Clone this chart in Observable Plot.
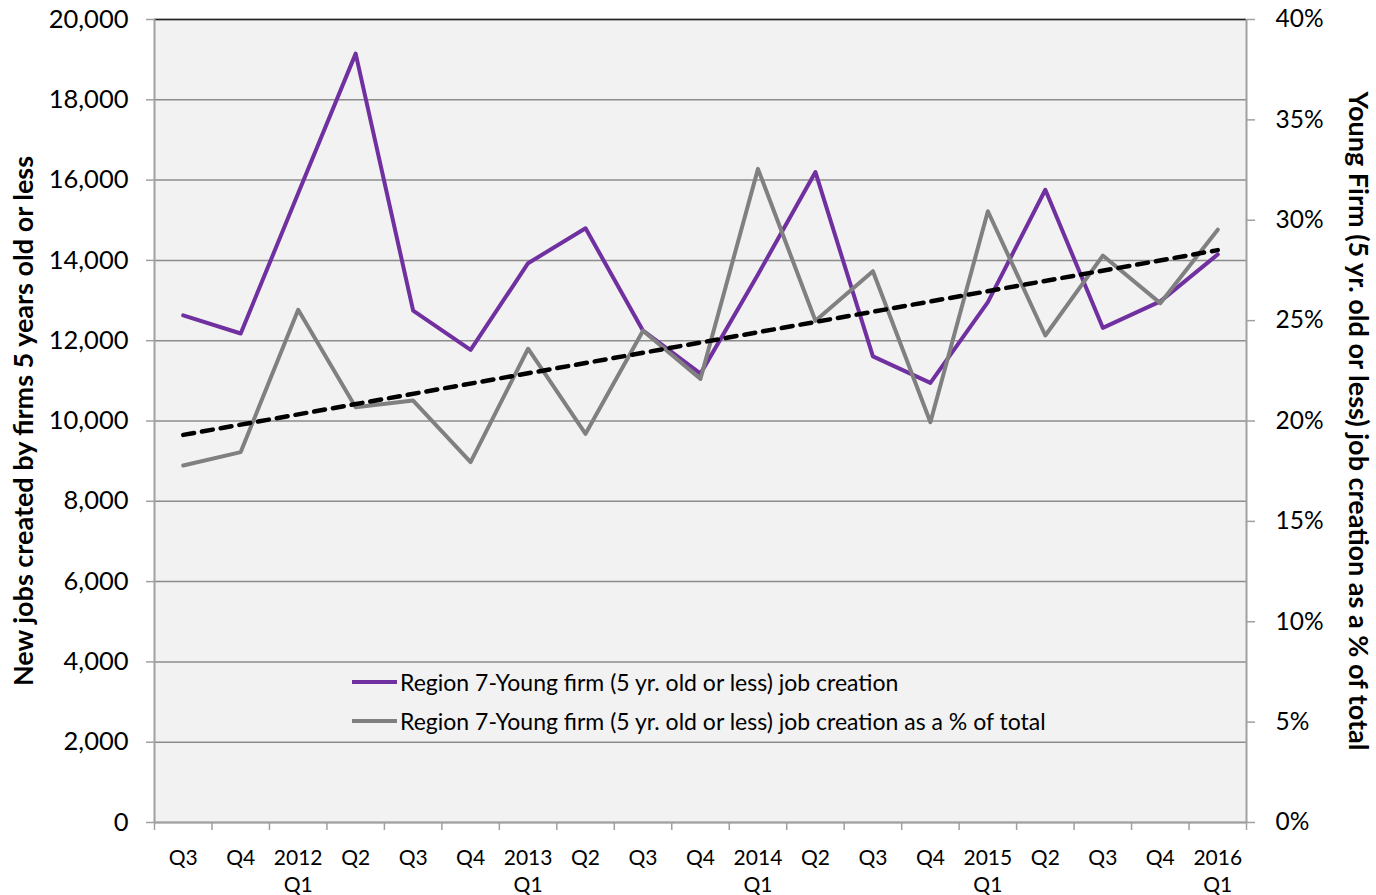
<!DOCTYPE html>
<html><head><meta charset="utf-8">
<script src="https://cdn.jsdelivr.net/npm/d3@7"></script>
<script src="https://cdn.jsdelivr.net/npm/@observablehq/plot@0.6"></script>
<style>
body{margin:0;background:#fff;font-family:Lato,sans-serif;}
#wrap{position:relative;width:1376px;height:895px;}
#legend{position:absolute;left:352px;top:662px;font-size:23px;color:#000;font-family:Lato,sans-serif;}
.row{display:flex;align-items:center;height:39px;white-space:nowrap;}
.sw{width:45px;height:4px;margin-right:3px;}
</style></head><body><div id="wrap"><div id="legend"></div></div>
<script>
const quarterLabels = ["Q3","Q4","2012\nQ1","Q2","Q3","Q4","2013\nQ1","Q2","Q3","Q4","2014\nQ1","Q2","Q3","Q4","2015\nQ1","Q2","Q3","Q4","2016\nQ1"];
const jobs = [12630,12180,15670,19150,12750,11770,13930,14800,12250,11180,13650,16200,11610,10950,12960,15760,12320,12980,14150];
const pctOfTotal = [17.78,18.45,25.54,20.69,21.02,17.95,23.6,19.36,24.5,22.1,32.56,24.99,27.46,19.94,30.45,24.26,28.24,25.87,29.53];
const leftTicks = d3.range(0, 20001, 2000);
const pctTicks = d3.range(0, 41, 5);
const seriesNames = ["Region 7-Young firm (5 yr. old or less) job creation","Region 7-Young firm (5 yr. old or less) job creation as a % of total"];
const colors = ["#7030a0","#808080"];

const data = quarterLabels.map((q,i)=>({i, q, jobs: jobs[i], pct: pctOfTotal[i]}));
const pctToY = p => p * 500;
const font = "Lato, sans-serif";

const chart = Plot.plot({
  width: 1376, height: 895,
  marginLeft: 154, marginRight: 130, marginTop: 19, marginBottom: 73,
  style: {fontFamily: font, background: "#fff", color: "#000"},
  x: {domain: [-0.5, 18.5]},
  y: {domain: [0, 20000]},
  marks: [
    Plot.frame({fill: "#f2f2f2", stroke: null}),
    Plot.gridY(leftTicks, {stroke: "#8c8c8c", strokeOpacity: 1, strokeWidth: 1.5}),
    Plot.ruleY([20000], {stroke: "#222", strokeWidth: 1.5}),
    Plot.ruleX([-0.5, 18.5], {stroke: "#a0a0a0", strokeWidth: 2}),
    Plot.ruleY([0], {stroke: "#a0a0a0", strokeWidth: 2}),
    Plot.axisY({ticks: leftTicks, tickFormat: d3.format(","), tickSize: 8, tickPadding: 18, fontSize: 25.5, stroke: "#a0a0a0", strokeWidth: 1.5, label: null}),
    Plot.axisY({anchor: "right", ticks: pctTicks.map(pctToY), tickFormat: d => (d/500) + "%", tickSize: 8, tickPadding: 21, fontSize: 24.5, stroke: "#a0a0a0", strokeWidth: 1.5, label: null}),
    Plot.axisX({ticks: d3.range(-0.5, 19, 1), tickFormat: () => "", tickSize: 8, stroke: "#a0a0a0", strokeWidth: 1.5, label: null}),
    Plot.axisX({ticks: d3.range(0, 19), tickFormat: i => quarterLabels[i], tickSize: 0, tickPadding: 23, fontSize: 21, lineHeight: 1.3, label: null}),
    Plot.lineY(data, {x: "i", y: "jobs", stroke: colors[0], strokeWidth: 4}),
    Plot.lineY(data, {x: "i", y: d => pctToY(d.pct), stroke: colors[1], strokeWidth: 4}),
    Plot.linearRegressionY(data, {x: "i", y: d => pctToY(d.pct), ci: 0, stroke: "#000", strokeWidth: 4.5, strokeDasharray: "11,8", strokeLinecap: "round"}),
    Plot.text(["New jobs created by firms 5 years old or less"], {frameAnchor: "left", textAnchor: "middle", dx: -130, rotate: -90, fontSize: 27, fontWeight: "bold", text: d => d}),
    Plot.text(["Young Firm (5 yr. old or less) job creation as a % of total"], {frameAnchor: "right", textAnchor: "middle", dx: 111, rotate: 90, fontSize: 27, fontWeight: "bold", text: d => d})
  ]
});
const wrap = document.getElementById("wrap");
wrap.insertBefore(chart, wrap.firstChild);
const legend = document.getElementById("legend");
seriesNames.forEach((n, k) => {
  const r = document.createElement("div"); r.className = "row";
  r.innerHTML = `<div class="sw" style="background:${colors[k]}"></div><span>${n}</span>`;
  legend.appendChild(r);
});
</script></body></html>
